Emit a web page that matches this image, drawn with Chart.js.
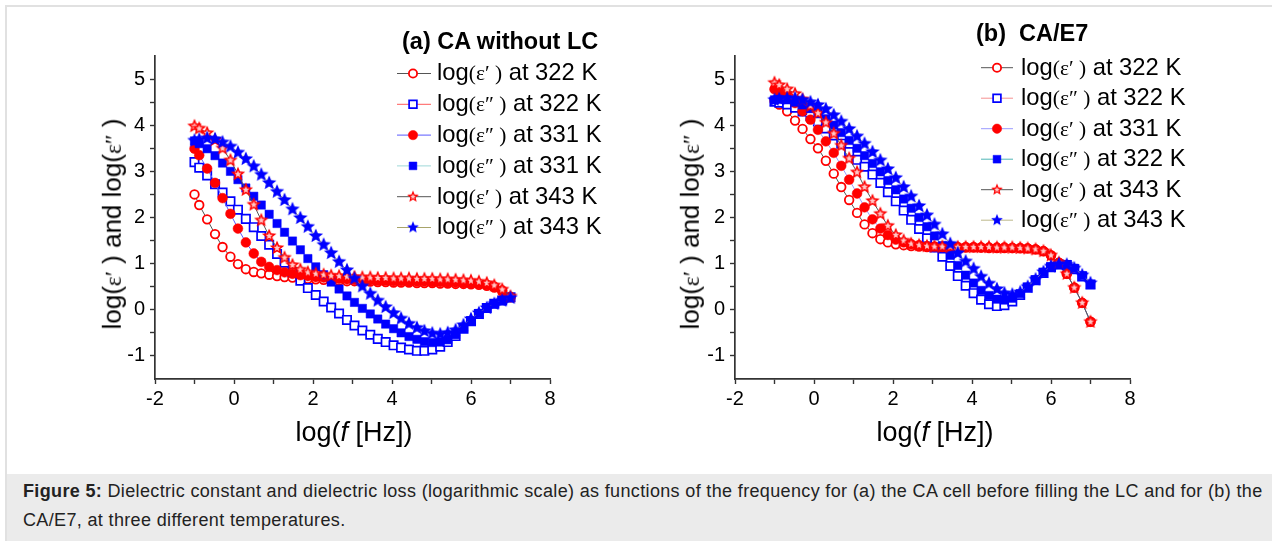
<!DOCTYPE html>
<html>
<head>
<meta charset="utf-8">
<title>Figure 5</title>
<script src="https://cdn.jsdelivr.net/npm/chart.js@4.4.1/dist/chart.umd.min.js"></script>
<style>
  body { margin: 0; background: #fff; font-family: "Liberation Sans", Arial, sans-serif; color: #000; }
  #page { position: relative; width: 1272px; height: 541px; overflow: hidden; }
  #frame { position: absolute; left: 5px; top: 5px; width: 1267px; height: 536px; border-left: 2px solid #e1e1e1; border-top: 2px solid #e1e1e1; box-sizing: border-box; }
  #capbox { position: absolute; left: 7px; top: 474px; width: 1265px; height: 67px; background: #ebebeb; }
  #caption { position: absolute; left: 23px; top: 477px; font-size: 18px; letter-spacing: 0.35px; line-height: 29px; color: #222; white-space: nowrap; }
  .panel { position: absolute; top: 10px; }
  .t { position: absolute; white-space: nowrap; line-height: 1; }
  .key { font-size: 23.8px; }
  .ptitle { font-size: 23.5px; font-weight: bold; }
  .axt { font-size: 27px; transform: translate(-50%, -50%); }
  .yt { font-size: 26px; transform: translate(-50%, -50%) rotate(-90deg); }
  .eps { font-family: "Liberation Serif", serif; font-size: 0.9em; }
</style>
</head>
<body>
<div id="page">
  <div id="frame"></div>
  <div id="capbox"></div>
  <div id="caption"><b>Figure 5:</b> Dielectric constant and dielectric loss (logarithmic scale) as functions of the frequency for (a) the CA cell before filling the LC and for (b) the<br>CA/E7, at three different temperatures.</div>

  <canvas id="chartA" class="panel" width="580" height="455" style="left:60px"></canvas>
  <canvas id="chartB" class="panel" width="580" height="455" style="left:640px"></canvas>

  <div class="t ptitle" style="left:402px; top:30px">(a) CA without LC</div>
  <div class="t ptitle" style="left:976px; top:22px">(b)&nbsp; CA/E7</div>

  <div class="t yt" style="left:112px; top:224px">log(<span class="eps">ε′</span> ) and log(<span class="eps">ε″</span> )</div>
  <div class="t yt" style="left:690px; top:224px">log(<span class="eps">ε′</span> ) and log(<span class="eps">ε″</span> )</div>
  <div class="t axt" style="left:354px; top:432px">log(<i>f</i> [Hz])</div>
  <div class="t axt" style="left:935px; top:432px">log(<i>f</i> [Hz])</div>

  <div id="keyA"></div>
  <div id="keyB"></div>
</div>

<script>
// log of frequency, shared by every curve
const logF = [-1, -0.88, -0.68, -0.48, -0.29, -0.09, 0.1, 0.3, 0.5, 0.69, 0.89, 1.09, 1.28, 1.48, 1.68, 1.87, 2.07,
  2.27, 2.46, 2.66, 2.86, 3.05, 3.25, 3.45, 3.64, 3.84, 4.04, 4.23, 4.43, 4.63, 4.82, 5.02, 5.22, 5.41, 5.61, 5.81,
  6.0, 6.2, 6.4, 6.59, 6.79, 7.0];

// (a) CA without LC
const caEps1_322 = [2.50, 2.27, 1.96, 1.64, 1.36, 1.15, 0.99, 0.88, 0.82, 0.79, 0.76, 0.73, 0.71, 0.70, 0.68, 0.67, 0.66,
  0.65, 0.64, 0.63, 0.62, 0.62, 0.61, 0.61, 0.60, 0.60, 0.59, 0.59, 0.59, 0.58, 0.58, 0.58, 0.57, 0.57, 0.56, 0.56,
  0.55, 0.54, 0.52, 0.48, 0.40, 0.27];
const caEps2_322 = [3.20, 3.08, 2.91, 2.72, 2.54, 2.35, 2.17, 1.97, 1.79, 1.60, 1.41, 1.21, 1.02, 0.82, 0.63, 0.47, 0.32,
  0.18, 0.05, -0.08, -0.22, -0.34, -0.45, -0.54, -0.63, -0.70, -0.77, -0.82, -0.86, -0.89, -0.89, -0.86, -0.80, -0.70,
  -0.57, -0.41, -0.25, -0.09, 0.04, 0.13, 0.20, 0.27];
const caEps1_331 = [3.49, 3.35, 3.06, 2.75, 2.42, 2.08, 1.76, 1.46, 1.22, 1.04, 0.93, 0.86, 0.81, 0.78, 0.75, 0.73, 0.71,
  0.70, 0.68, 0.67, 0.66, 0.65, 0.64, 0.64, 0.63, 0.63, 0.62, 0.62, 0.61, 0.61, 0.61, 0.60, 0.60, 0.59, 0.59, 0.58,
  0.57, 0.56, 0.54, 0.50, 0.42, 0.28];
const caEps2_331 = [3.66, 3.60, 3.49, 3.34, 3.18, 3.00, 2.82, 2.64, 2.46, 2.27, 2.07, 1.87, 1.68, 1.49, 1.30, 1.11, 0.93,
  0.76, 0.60, 0.45, 0.30, 0.16, 0.03, -0.09, -0.20, -0.31, -0.41, -0.50, -0.58, -0.64, -0.69, -0.71, -0.70, -0.65,
  -0.54, -0.40, -0.24, -0.08, 0.04, 0.13, 0.20, 0.26];
const caEps1_343 = [3.98, 3.93, 3.83, 3.68, 3.50, 3.24, 2.94, 2.60, 2.28, 1.94, 1.60, 1.34, 1.13, 0.97, 0.87, 0.81, 0.78,
  0.76, 0.74, 0.73, 0.72, 0.71, 0.70, 0.70, 0.69, 0.69, 0.68, 0.68, 0.68, 0.67, 0.67, 0.67, 0.66, 0.66, 0.65, 0.64,
  0.63, 0.61, 0.58, 0.53, 0.44, 0.29];
const caEps2_343 = [3.67, 3.69, 3.72, 3.70, 3.63, 3.54, 3.41, 3.27, 3.11, 2.93, 2.75, 2.56, 2.38, 2.18, 1.99, 1.80, 1.60,
  1.41, 1.23, 1.04, 0.86, 0.68, 0.51, 0.35, 0.20, 0.06, -0.07, -0.19, -0.30, -0.39, -0.46, -0.51, -0.53, -0.50, -0.44,
  -0.33, -0.20, -0.07, 0.04, 0.13, 0.20, 0.26];

// (b) CA/E7
const e7Eps1_322 = [4.53, 4.45, 4.30, 4.10, 3.92, 3.70, 3.50, 3.23, 2.95, 2.66, 2.38, 2.10, 1.85, 1.66, 1.53, 1.46, 1.42,
  1.40, 1.38, 1.37, 1.36, 1.36, 1.35, 1.35, 1.35, 1.35, 1.35, 1.35, 1.34, 1.34, 1.34, 1.34, 1.33, 1.33, 1.31, 1.27,
  1.18, 1.02, 0.78, 0.48, 0.15, -0.26];
const e7Eps2_322 = [4.51, 4.49, 4.45, 4.38, 4.30, 4.20, 4.08, 3.93, 3.78, 3.60, 3.42, 3.25, 3.10, 2.93, 2.75, 2.55, 2.35,
  2.15, 1.95, 1.75, 1.55, 1.35, 1.15, 0.95, 0.73, 0.52, 0.36, 0.22, 0.12, 0.08, 0.10, 0.18, 0.32, 0.48, 0.64, 0.80,
  0.92, 0.98, 0.97, 0.88, 0.72, 0.55];
const e7Eps1_331 = [4.78, 4.72, 4.62, 4.48, 4.30, 4.12, 3.90, 3.65, 3.40, 3.12, 2.82, 2.52, 2.22, 1.96, 1.76, 1.62, 1.52,
  1.46, 1.42, 1.40, 1.38, 1.37, 1.36, 1.36, 1.36, 1.36, 1.36, 1.35, 1.35, 1.35, 1.35, 1.34, 1.34, 1.33, 1.31, 1.27,
  1.18, 1.02, 0.78, 0.48, 0.15, -0.26];
const e7Eps2_331 = [4.55, 4.56, 4.55, 4.50, 4.44, 4.36, 4.26, 4.14, 4.00, 3.84, 3.67, 3.50, 3.34, 3.17, 2.99, 2.80, 2.60,
  2.40, 2.20, 2.00, 1.80, 1.60, 1.39, 1.18, 0.96, 0.75, 0.58, 0.42, 0.31, 0.23, 0.21, 0.25, 0.35, 0.49, 0.65, 0.81,
  0.93, 0.98, 0.98, 0.90, 0.74, 0.55];
const e7Eps1_343 = [4.92, 4.87, 4.78, 4.68, 4.56, 4.42, 4.26, 4.06, 3.82, 3.56, 3.28, 2.98, 2.66, 2.36, 2.08, 1.82, 1.62,
  1.50, 1.43, 1.40, 1.38, 1.37, 1.37, 1.37, 1.36, 1.36, 1.36, 1.36, 1.36, 1.35, 1.35, 1.35, 1.34, 1.33, 1.31, 1.27,
  1.18, 1.02, 0.78, 0.48, 0.15, -0.26];
const e7Eps2_343 = [4.55, 4.57, 4.58, 4.58, 4.55, 4.50, 4.44, 4.35, 4.22, 4.08, 3.92, 3.76, 3.60, 3.42, 3.24, 3.05, 2.86,
  2.66, 2.46, 2.25, 2.05, 1.85, 1.64, 1.43, 1.23, 1.05, 0.89, 0.72, 0.57, 0.45, 0.36, 0.33, 0.38, 0.50, 0.66, 0.82,
  0.94, 0.99, 0.98, 0.90, 0.75, 0.58];

const labelsA = ['log(ε′ ) at 322 K', 'log(ε″ ) at 322 K', 'log(ε″ ) at 331 K', 'log(ε″ ) at 331 K', 'log(ε′ ) at 343 K', 'log(ε″ ) at 343 K'];
const labelsB = ['log(ε′ ) at 322 K', 'log(ε″ ) at 322 K', 'log(ε′ ) at 331 K', 'log(ε″ ) at 322 K', 'log(ε′ ) at 343 K', 'log(ε″ ) at 343 K'];

const xTickValues = [-2, -1, 0, 1, 2, 3, 4, 5, 6, 7, 8];
const xTickLabels = ['-2', '', '0', '', '2', '', '4', '', '6', '', '8'];
const yTickValues = [-1, -0.5, 0, 0.5, 1, 1.5, 2, 2.5, 3, 3.5, 4, 4.5, 5];
const yTickLabels = ['-1', '', '0', '', '1', '', '2', '', '3', '', '4', '', '5'];

const RED = '#ff0000';
const BLUE = '#0000ff';

// five pointed star marker, drawn once into a small canvas
function starImage(R, outer, inner) {
  const size = Math.ceil(R) * 2 + 2;
  const c = document.createElement('canvas');
  c.width = size;
  c.height = size;
  const g = c.getContext('2d');
  const path = (r) => {
    g.beginPath();
    for (let k = 0; k < 10; k++) {
      const rr = k % 2 ? r * 0.45 : r;
      const a = -Math.PI / 2 + k * Math.PI / 5;
      const px = size / 2 + rr * Math.cos(a);
      const py = size / 2 + rr * Math.sin(a);
      if (k) g.lineTo(px, py); else g.moveTo(px, py);
    }
    g.closePath();
  };
  g.fillStyle = outer;
  path(R);
  g.fill();
  if (inner) {
    g.fillStyle = inner;
    path(R * 0.48);
    g.fill();
  }
  return c;
}

const markers = {
  openCircle: { pointStyle: 'circle', pointRadius: 4.3, keyRadius: 4.1, pointBorderWidth: 1.8, pointBorderColor: RED, pointBackgroundColor: '#fff' },
  openSquare: { pointStyle: 'rect', pointRadius: 5.9, keyRadius: 5.5, pointBorderWidth: 1.7, pointBorderColor: BLUE, pointBackgroundColor: '#fff' },
  fullCircle: { pointStyle: 'circle', pointRadius: 4.9, keyRadius: 4.7, pointBorderWidth: 0.5, pointBorderColor: RED, pointBackgroundColor: RED },
  fullSquare: { pointStyle: 'rect', pointRadius: 5.9, keyRadius: 5.5, pointBorderWidth: 0.5, pointBorderColor: BLUE, pointBackgroundColor: BLUE },
  redStar: { pointStyle: starImage(7.6, RED, '#ffc8c8'), keyStyle: starImage(6.2, RED, '#ffc8c8'), pointRadius: 6.5, keyRadius: 5.5, pointBorderWidth: 0, pointBorderColor: RED, pointBackgroundColor: RED },
  blueStar: { pointStyle: starImage(7.6, BLUE), keyStyle: starImage(6.2, BLUE), pointRadius: 6.5, keyRadius: 5.5, pointBorderWidth: 0, pointBorderColor: BLUE, pointBackgroundColor: BLUE }
};

// line + marker sample for each curve, drawn next to the html key text
const symbolKey = {
  id: 'symbolKey',
  afterDraw(chart, args, opts) {
    const ctx = chart.ctx;
    chart.data.datasets.forEach((ds, i) => {
      const y = opts.y0 + i * opts.dy;
      ctx.save();
      ctx.strokeStyle = ds.borderColor;
      ctx.lineWidth = 1;
      ctx.beginPath();
      ctx.moveTo(opts.x1, y);
      ctx.lineTo(opts.x2, y);
      ctx.stroke();
      ctx.fillStyle = ds.pointBackgroundColor;
      ctx.strokeStyle = ds.pointBorderColor;
      ctx.lineWidth = ds.pointBorderWidth;
      Chart.helpers.drawPoint(ctx, {
        pointStyle: ds.keyStyle || ds.pointStyle,
        radius: ds.keyRadius,
        rotation: 0,
        borderWidth: ds.pointBorderWidth
      }, opts.xm, y);
      ctx.restore();
    });
  }
};

function tickFont() {
  return { family: 'Liberation Sans', size: 20 };
}

function buildPanel(id, series, key) {
  const datasets = series.map((s, i) => Object.assign({
    label: s.label,
    data: logF.map((x, k) => ({ x: x, y: s.values[k] })),
    borderColor: s.line,
    borderWidth: 1,
    showLine: true,
    order: series.length - i
  }, markers[s.marker]));

  return new Chart(document.getElementById(id), {
    type: 'scatter',
    data: { datasets: datasets },
    options: {
      responsive: false,
      animation: false,
      layout: { padding: { left: 0, top: 46, right: 90, bottom: 0 } },
      plugins: {
        legend: { display: false },
        tooltip: { enabled: false },
        symbolKey: key
      },
      scales: {
        x: {
          type: 'linear',
          min: -2,
          max: 8,
          afterBuildTicks: (scale) => { scale.ticks = xTickValues.map(v => ({ value: v })); },
          afterFit: (scale) => { scale.height = 86; },
          ticks: {
            autoSkip: false,
            maxRotation: 0,
            padding: 3,
            color: '#000',
            font: tickFont(),
            callback: (v, i) => xTickLabels[i]
          },
          grid: { drawOnChartArea: false, tickLength: 5, tickColor: '#333', tickWidth: 1.4 },
          border: { color: '#333', width: 1.7 }
        },
        y: {
          type: 'linear',
          min: -1.5,
          max: 5.5,
          afterBuildTicks: (scale) => { scale.ticks = yTickValues.map(v => ({ value: v })); },
          afterFit: (scale) => { scale.width = 95; },
          ticks: {
            autoSkip: false,
            padding: 5,
            color: '#000',
            font: tickFont(),
            callback: (v, i) => yTickLabels[i]
          },
          grid: { drawOnChartArea: false, tickLength: 5, tickColor: '#333', tickWidth: 1.4 },
          border: { color: '#333', width: 1.7 }
        }
      }
    },
    plugins: [symbolKey]
  });
}

function writeKey(divId, labels, left, top0, step) {
  const box = document.getElementById(divId);
  labels.forEach((txt, i) => {
    const d = document.createElement('div');
    d.className = 't key';
    d.style.left = left + 'px';
    d.style.top = (top0 + i * step) + 'px';
    d.innerHTML = txt.replace(/\(([^)]*)\)/, '<span class="eps">($1)</span>');
    box.appendChild(d);
  });
}

buildPanel('chartA', [
  { label: labelsA[0], values: caEps1_322, marker: 'openCircle', line: '#555555' },
  { label: labelsA[1], values: caEps2_322, marker: 'openSquare', line: '#ff5a5a' },
  { label: labelsA[2], values: caEps1_331, marker: 'fullCircle', line: '#5a5aff' },
  { label: labelsA[3], values: caEps2_331, marker: 'fullSquare', line: '#9ed8d8' },
  { label: labelsA[4], values: caEps1_343, marker: 'redStar', line: '#555555' },
  { label: labelsA[5], values: caEps2_343, marker: 'blueStar', line: '#a8a46a' }
], { x1: 337, x2: 371, xm: 353, y0: 63.5, dy: 30.8 });

buildPanel('chartB', [
  { label: labelsB[0], values: e7Eps1_322, marker: 'openCircle', line: '#555555' },
  { label: labelsB[1], values: e7Eps2_322, marker: 'openSquare', line: '#f59090' },
  { label: labelsB[2], values: e7Eps1_331, marker: 'fullCircle', line: '#9a9aff' },
  { label: labelsB[3], values: e7Eps2_331, marker: 'fullSquare', line: '#4fb5b5' },
  { label: labelsB[4], values: e7Eps1_343, marker: 'redStar', line: '#555555' },
  { label: labelsB[5], values: e7Eps2_343, marker: 'blueStar', line: '#bdb98c' }
], { x1: 341, x2: 373, xm: 357, y0: 57.7, dy: 30.5 });

writeKey('keyA', labelsA, 437, 60.3, 30.8);
writeKey('keyB', labelsB, 1021, 54.8, 30.5);
</script>
</body>
</html>
